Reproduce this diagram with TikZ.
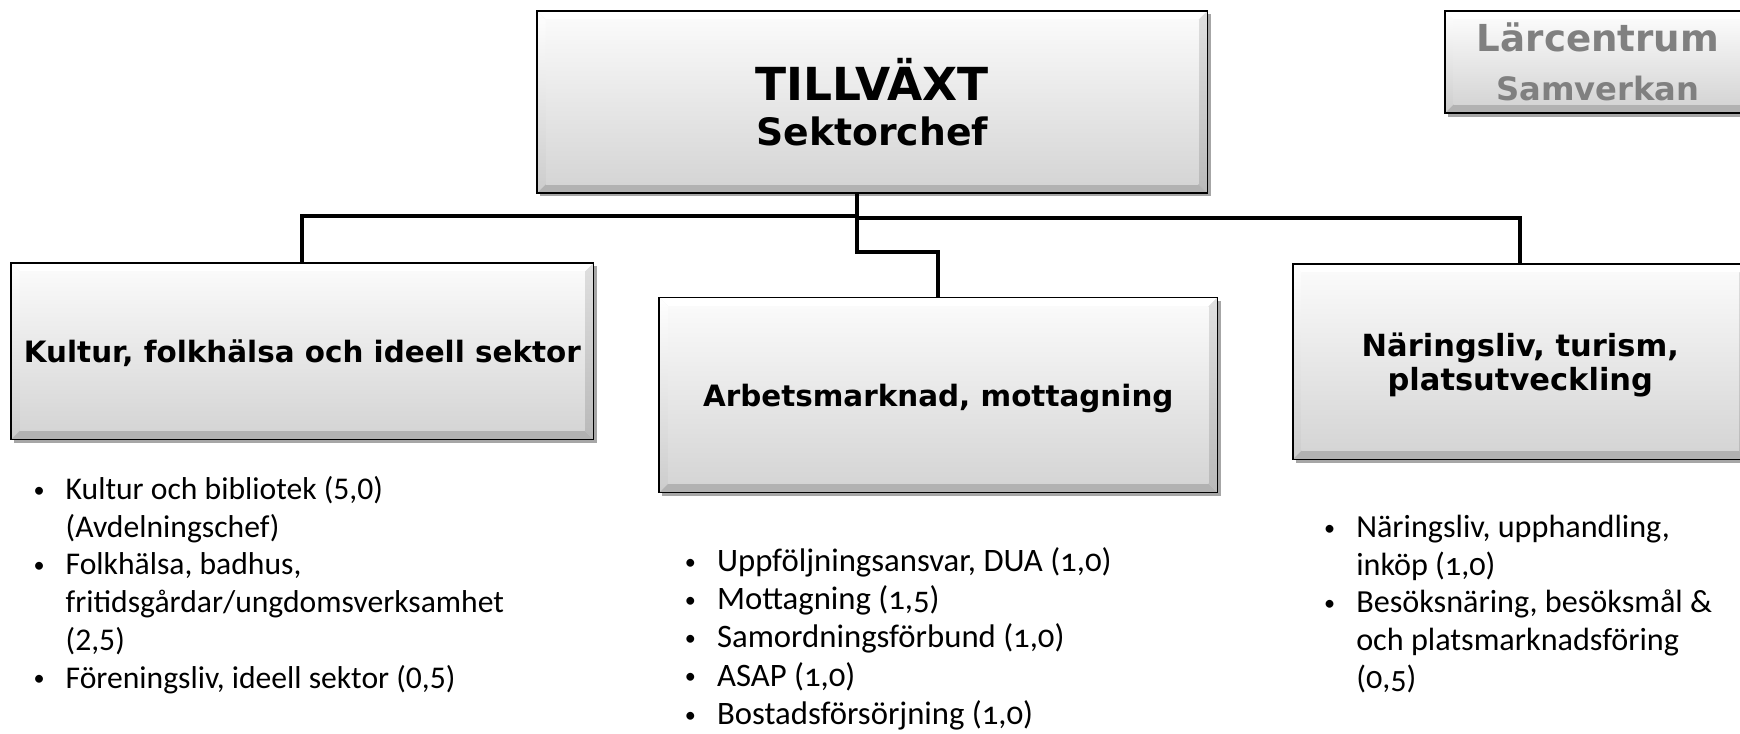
\documentclass[tikz,border=0pt]{standalone}
\usepackage{fontspec}
\usepackage{tikz}
\usetikzlibrary{positioning, calc, shadows}
\newfontfamily\boxfont{DejaVu Sans}
\newfontfamily\listfont{Carlito}
\newfontfamily\listfontold{Carlito}[Numbers=OldStyle]
\newcommand\bul{\makebox[29pt][l]{\raisebox{2pt}{\fontsize{20}{20}\selectfont •}}}
\newcommand\ind{\hspace*{29pt}}

\begin{document}
\begin{tikzpicture}[x=1pt, y=1pt,
    orgbox/.style={draw=black, line width=1.4pt, fill=gray!15, inner sep=0pt, align=center,
      drop shadow={shadow xshift=3pt, shadow yshift=-3pt, fill=black, opacity=0.35},
      path picture={
        \coordinate (pa) at (path picture bounding box.north west);
        \coordinate (pb) at (path picture bounding box.south east);
        \fill[white] (pa) -- (pa -| pb) -- ($(pa -| pb)+(-8,-8)$) -- ($(pa)+(8,-8)$) -- cycle;
        \shade[top color=white, bottom color=gray!40] (pa) -- ($(pa)+(8,-8)$) -- ($(pb -| pa)+(8,8)$) -- (pb -| pa) -- cycle;
        \shade[top color=gray!25, bottom color=gray!55] (pa -| pb) -- (pb) -- ($(pb)+(-8,8)$) -- ($(pa -| pb)+(-8,-8)$) -- cycle;
        \fill[gray!60] (pb) -- (pb -| pa) -- ($(pb -| pa)+(8,8)$) -- ($(pb)+(-8,8)$) -- cycle;
        \shade[top color=gray!4, bottom color=gray!33] ($(pa)+(8,-8)$) rectangle ($(pb)+(-8,8)$);
      }},
    unitlabel/.style={font=\boxfont\bfseries\fontsize{26.5}{30}\selectfont, text depth=0pt},
    link/.style={line width=3.6pt},
    listtxt/.style={align=left, inner sep=0pt, anchor=north west}
  ]
  \useasboundingbox (0,0) rectangle (1568,-661.4);

  % top of the organisation
  \node[orgbox, minimum width=604pt, minimum height=164pt,
        font=\boxfont\bfseries\fontsize{41}{40}\selectfont] (chef) at (786,-92)
    {TILLVÄXT\\ {\fontsize{34}{40}\selectfont Sektorchef}};
  \node[orgbox, minimum width=276pt, minimum height=92pt, text=black!50,
        font=\boxfont\bfseries\fontsize{33.5}{44}\selectfont] (larcentrum) at (1440,-56)
    {Lärcentrum\\ {\fontsize{29}{44}\selectfont Samverkan}};

  % units
  \node[orgbox, unitlabel, minimum width=525pt, minimum height=159pt] (kultur) at (272.5,-316.5)
    {Kultur, folkhälsa och ideell sektor};
  \node[orgbox, unitlabel, minimum width=503pt, minimum height=176pt] (arbete) at (845.5,-356)
    {Arbetsmarknad, mottagning};
  \node[orgbox, unitlabel, minimum width=410pt, minimum height=176pt,
        font=\boxfont\bfseries\fontsize{27.5}{30}\selectfont] (naring) at (1370,-326)
    {Näringsliv, turism,\\ platsutveckling};

  % connectors
  \coordinate (split) at ($(chef.south)+(-14,0)$);
  \draw[link] (split) -- ++(0,-20) -| (kultur.north);
  \draw[link] ($(split)+(0,-22)$) -| (naring.north);
  \draw[link] (split) -- ++(0,-52) -| (arbete.north);

  % lists
  \node[listtxt, font=\listfont\fontsize{28.5}{34}\selectfont] (kulturlist) at (30,-429)
    {\bul Kultur och bibliotek (5,0)\\
     \ind (Avdelningschef)\\
     \bul Folkhälsa, badhus,\\
     \ind fritidsgårdar/ungdomsverksamhet\\
     \ind (2,5)\\
     \bul Föreningsliv, ideell sektor (0,5)};
  \node[listtxt, font=\listfontold\fontsize{29.5}{34.5}\selectfont] (arbetelist) at (617,-493)
    {\bul Uppföljningsansvar, DUA (1,0)\\
     \bul Mottagning (1,5)\\
     \bul Samordningsförbund (1,0)\\
     \bul ASAP (1,0)\\
     \bul Bostadsförsörjning (1,0)};
  \node[listtxt, font=\listfontold\fontsize{29}{34}\selectfont] (naringlist) at (1193,-464)
    {\bul Näringsliv, upphandling,\\
     \ind inköp (1,0)\\
     \bul Besöksnäring, besöksmål \&\\
     \ind och platsmarknadsföring\\
     \ind (0,5)};
\end{tikzpicture}
\end{document}
